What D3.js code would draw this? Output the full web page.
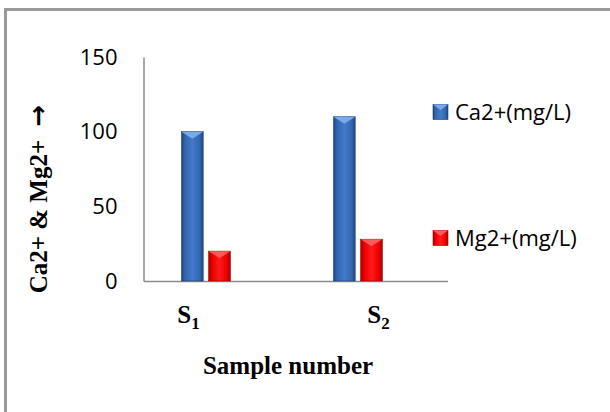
<!DOCTYPE html>
<html>
<head>
<meta charset="utf-8">
<script src="https://cdn.jsdelivr.net/npm/d3@7"></script>
<style>
    html, body { margin: 0; background: #fff; overflow: hidden; }
    svg { display: block; }
</style>
</head>
<body>
<svg class="chart"></svg>
<script>
var categories = ["S1", "S2"];
var seriesNames = ["Ca2+(mg/L)", "Mg2+(mg/L)"];
var caValues = [100, 110];
var mgValues = [20, 28];
var yTicks = [0, 50, 100, 150];

var outerSize = {width: 610, height: 412};
var plot = {left: 143.5, right: 447.5, top: 57, bottom: 281};

var svg = d3.select(".chart")
        .attr("width", outerSize.width)
        .attr("height", outerSize.height);

// gradients for the bevelled bars
var defs = svg.append("defs");
function addGradient(id, edge, mid, center) {
    var g = defs.append("linearGradient").attr("id", id)
            .attr("x1", "0%").attr("x2", "100%").attr("y1", "0%").attr("y2", "0%");
    g.append("stop").attr("offset", "0%").attr("stop-color", edge);
    g.append("stop").attr("offset", "18%").attr("stop-color", mid);
    g.append("stop").attr("offset", "50%").attr("stop-color", center);
    g.append("stop").attr("offset", "82%").attr("stop-color", mid);
    g.append("stop").attr("offset", "100%").attr("stop-color", edge);
}
addGradient("gradBlue", "#1f4680", "#3567b1", "#4279c8");
addGradient("gradRed", "#a80000", "#ee0000", "#ff1a1a");
var seriesFill = ["url(#gradBlue)", "url(#gradRed)"];
var seriesTop = ["#78aaea", "#ff5a5a"];
var seriesEdge = ["#1c3f73", "#9a0000"];

// outer frame: only its left and top edges fall inside the picture
svg.append("path")
        .attr("d", "M5.5," + outerSize.height + "V9.5H" + outerSize.width)
        .attr("fill", "none")
        .attr("stroke", "#9a9a9a")
        .attr("stroke-width", 3);

var xRange = d3.scaleBand()
        .domain(categories)
        .range([plot.left, plot.right])
        .padding(0);

// three column slots per category, the third one is empty in the original
var xSlot = d3.scaleBand()
        .domain(d3.range(seriesNames.length + 1))
        .range([xRange.bandwidth() * 0.25, xRange.bandwidth() * 0.75])
        .paddingInner(0.2);

var yRange = d3.scaleLinear()
        .domain([0, 150])
        .range([plot.bottom, plot.top]);

// y axis: line only, labels on the left
var yAxis = svg.append("g")
        .attr("transform", "translate(" + plot.left + ",0)")
        .call(d3.axisLeft(yRange).tickValues(yTicks).tickSize(0).tickPadding(26));
yAxis.select(".domain").attr("stroke", "#8a8a8a").attr("stroke-width", 1.5);
yAxis.selectAll("text")
        .attr("fill", "#000")
        .style("font-family", "'Open Sans', sans-serif")
        .style("font-size", "22px");

// x axis baseline
var xAxis = svg.append("g")
        .attr("transform", "translate(0," + plot.bottom + ")")
        .call(d3.axisBottom(xRange).tickSize(0).tickFormat(""));
xAxis.select(".domain").attr("stroke", "#8a8a8a").attr("stroke-width", 1.5);

// bars
var rows = categories.map(function (c, i) {
    return {category: c, values: [caValues[i], mgValues[i]]};
});

var group = svg.selectAll(".cardGroup")
        .data(rows)
        .enter().append("g")
        .attr("class", "cardGroup")
        .attr("transform", function (d) { return "translate(" + xRange(d.category) + ",0)"; });

var bar = group.selectAll(".bar")
        .data(function (d) {
            return d.values.map(function (v, s) { return {series: s, value: v}; });
        })
        .enter().append("g")
        .attr("class", "bar");

bar.append("rect")
        .attr("x", function (d) { return xSlot(d.series); })
        .attr("width", xSlot.bandwidth())
        .attr("y", function (d) { return yRange(d.value); })
        .attr("height", function (d) { return yRange(0) - yRange(d.value); })
        .attr("fill", function (d) { return seriesFill[d.series]; })
        .attr("stroke", function (d) { return seriesEdge[d.series]; })
        .attr("stroke-width", 0.6);

bar.append("path")
        .attr("d", function (d) {
            var x0 = xSlot(d.series), w = xSlot.bandwidth(), y0 = yRange(d.value);
            return "M" + x0 + "," + y0 + "L" + (x0 + w) + "," + y0 + "L" + (x0 + w / 2) + "," + (y0 + 7) + "Z";
        })
        .attr("fill", function (d) { return seriesTop[d.series]; });

// category labels with subscripts
var tickLabelDx = [-31, 7];
categories.forEach(function (c, i) {
    var t = svg.append("text")
            .attr("x", xRange(c) + xRange.bandwidth() / 2 + tickLabelDx[i])
            .attr("y", 323)
            .attr("text-anchor", "middle")
            .style("font-family", "'Liberation Serif', 'Times New Roman', serif")
            .style("font-weight", "bold")
            .style("font-size", "25px");
    t.append("tspan").text(c.charAt(0));
    t.append("tspan").attr("dy", 6).style("font-size", "17px").text(c.slice(1));
});

// axis titles
svg.append("text")
        .attr("x", 288)
        .attr("y", 374)
        .attr("text-anchor", "middle")
        .style("font-family", "'Liberation Serif', 'Times New Roman', serif")
        .style("font-weight", "bold")
        .style("font-size", "25px")
        .text("Sample number");

var yTitle = svg.append("text")
        .attr("transform", "translate(47,199) rotate(-90)")
        .attr("text-anchor", "middle")
        .style("font-family", "'Liberation Serif', 'Times New Roman', serif")
        .style("font-weight", "bold")
        .style("font-size", "25px");
yTitle.append("tspan").text("Ca2+ & Mg2+ ");
yTitle.append("tspan")
        .attr("dx", 7)
        .style("font-family", "'DejaVu Sans', sans-serif")
        .style("font-size", "26px")
        .text("\u2192");

// legend
var legendY = [112, 238];
seriesNames.forEach(function (name, s) {
    var lg = svg.append("g").attr("transform", "translate(433," + legendY[s] + ")");
    lg.append("rect")
            .attr("x", 0).attr("y", -7.5)
            .attr("width", 15).attr("height", 15)
            .attr("fill", seriesFill[s])
            .attr("stroke", seriesEdge[s])
            .attr("stroke-width", 0.6);
    lg.append("path")
            .attr("d", "M0,-7.5L15,-7.5L7.5,-2Z")
            .attr("fill", seriesTop[s]);
    lg.append("text")
            .attr("x", 22)
            .attr("dy", "0.35em")
            .style("font-family", "'Open Sans', sans-serif")
            .style("font-size", "22px")
            .text(name);
});
</script>
</body>
</html>
